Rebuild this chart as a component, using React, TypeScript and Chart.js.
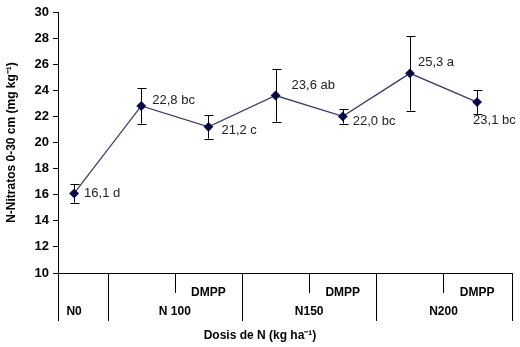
import React, { useEffect, useRef } from "react";
import { Chart, registerables } from "chart.js";

Chart.register(...registerables);

// ---- data ----
const values = [16.1, 22.8, 21.2, 23.6, 22.0, 25.3, 23.1];
const errors = [0.7, 1.35, 0.9, 2.0, 0.55, 2.85, 0.9];
const pointLabels = ["16,1 d", "22,8 bc", "21,2 c", "23,6 ab", "22,0 bc", "25,3 a", "23,1 bc"];
const subLabels = ["", "", "DMPP", "", "DMPP", "", "DMPP"];
const groupOf = [0, 1, 1, 2, 2, 3, 3];
const groupLabels = ["N0", "N 100", "N150", "N200"];
const yTitle = "N-Nitratos 0-30 cm (mg kg\u207B\u00B9)";
const xTitle = "Dosis de N (kg ha\u207B\u00B9)";

// ---- styles ----
const labelOffsets: [number, number][] = [
  [10, 0], [11, -6], [13, 4], [16, -10], [10, 5], [8, -11], [-4, 18],
];
const FONT = "'Liberation Sans', Arial, sans-serif";

const overlayPlugin = {
  id: "overlay",
  afterDatasetsDraw(chart: any) {
    const ctx = chart.ctx;
    const xs = chart.scales.x;
    const ys = chart.scales.y;
    ctx.save();
    // error bars
    ctx.strokeStyle = "#000";
    ctx.lineWidth = 1;
    values.forEach((v, i) => {
      const x = Math.round(xs.getPixelForValue(i)) + 0.5;
      const yt = ys.getPixelForValue(v + errors[i]);
      const yb = ys.getPixelForValue(v - errors[i]);
      ctx.beginPath();
      ctx.moveTo(x, yt);
      ctx.lineTo(x, yb);
      ctx.moveTo(x - 4, Math.round(yt) + 0.5);
      ctx.lineTo(x + 5, Math.round(yt) + 0.5);
      ctx.moveTo(x - 4, Math.round(yb) + 0.5);
      ctx.lineTo(x + 5, Math.round(yb) + 0.5);
      ctx.stroke();
    });
    // point labels
    ctx.fillStyle = "#222";
    ctx.font = "13px " + FONT;
    ctx.textAlign = "left";
    ctx.textBaseline = "middle";
    values.forEach((v, i) => {
      const x = xs.getPixelForValue(i);
      const y = ys.getPixelForValue(v);
      ctx.fillText(pointLabels[i], x + labelOffsets[i][0], y + labelOffsets[i][1]);
    });
    ctx.restore();
  },
  afterDraw(chart: any) {
    const ctx = chart.ctx;
    const xs = chart.scales.x;
    const area = chart.chartArea;
    const bottom = area.bottom;
    ctx.save();
    ctx.strokeStyle = "#000";
    ctx.lineWidth = 1;
    // x axis line
    ctx.beginPath();
    ctx.moveTo(area.left, Math.round(bottom) + 0.5);
    ctx.lineTo(area.right, Math.round(bottom) + 0.5);
    ctx.stroke();
    // separators
    const seps: { x: number; full: boolean }[] = [];
    seps.push({ x: area.left, full: true });
    for (let i = 0; i < values.length - 1; i++) {
      seps.push({ x: xs.getPixelForValue(i + 0.5), full: groupOf[i] !== groupOf[i + 1] });
    }
    seps.push({ x: area.right, full: true });
    seps.forEach((s) => {
      const x = Math.round(s.x) + 0.5;
      ctx.beginPath();
      ctx.moveTo(x, bottom);
      ctx.lineTo(x, bottom + (s.full ? 48 : 20));
      ctx.stroke();
    });
    // sub labels
    ctx.fillStyle = "#000";
    ctx.font = "bold 12px " + FONT;
    ctx.textAlign = "center";
    ctx.textBaseline = "middle";
    subLabels.forEach((l, i) => {
      if (l) ctx.fillText(l, xs.getPixelForValue(i), bottom + 20);
    });
    // group labels
    groupLabels.forEach((g, gi) => {
      const idx = groupOf.map((v, i) => (v === gi ? i : -1)).filter((i) => i >= 0);
      const c = (xs.getPixelForValue(idx[0]) + xs.getPixelForValue(idx[idx.length - 1])) / 2;
      ctx.fillText(g, c, bottom + 39);
    });
    // x title
    ctx.font = "bold 12px " + FONT;
    ctx.fillText(xTitle, chart.width / 2, bottom + 63);
    ctx.restore();
  },
};

export default function App() {
  const ref = useRef<HTMLCanvasElement>(null);
  useEffect(() => {
    document.body.style.margin = "0";
    const chart = new Chart(ref.current!, {
      type: "line",
      data: {
        datasets: [
          {
            data: values.map((v, i) => ({ x: i, y: v })),
            borderColor: "#3c3c6e",
            borderWidth: 1.3,
            pointStyle: "rectRot",
            pointRadius: 4,
            pointBackgroundColor: "#0a0a55",
            pointBorderColor: "#0a0a55",
            tension: 0,
          },
        ],
      },
      options: {
        animation: false,
        responsive: false,
        maintainAspectRatio: false,
        layout: { padding: { top: 12, right: 8, left: 0, bottom: 0 } },
        plugins: { legend: { display: false }, tooltip: { enabled: false } },
        scales: {
          x: {
            type: "linear",
            min: -0.24,
            max: 6.52,
            grid: { display: false },
            border: { display: false },
            ticks: { display: false },
            afterFit: (s: any) => {
              s.height = 74;
            },
          },
          y: {
            min: 10,
            max: 30,
            ticks: {
              stepSize: 2,
              color: "#000",
              font: { family: FONT, size: 13, weight: "bold" },
              padding: 4,
            },
            grid: { drawOnChartArea: false, drawTicks: true, tickLength: 5, color: "#000" },
            border: { display: true, color: "#000" },
            title: {
              display: true,
              text: yTitle,
              color: "#000",
              font: { family: FONT, size: 12, weight: "bold" },
              padding: { top: 4, bottom: 0 },
            },
            afterFit: (s: any) => {
              s.width = 58;
            },
          },
        },
      },
      plugins: [overlayPlugin],
    });
    return () => chart.destroy();
  }, []);
  return (
    <div style={{ position: "fixed", left: 0, top: 0, width: 520, height: 347, background: "#fff" }}>
      <canvas ref={ref} width={520} height={347} style={{ width: 520, height: 347 }} />
    </div>
  );
}
